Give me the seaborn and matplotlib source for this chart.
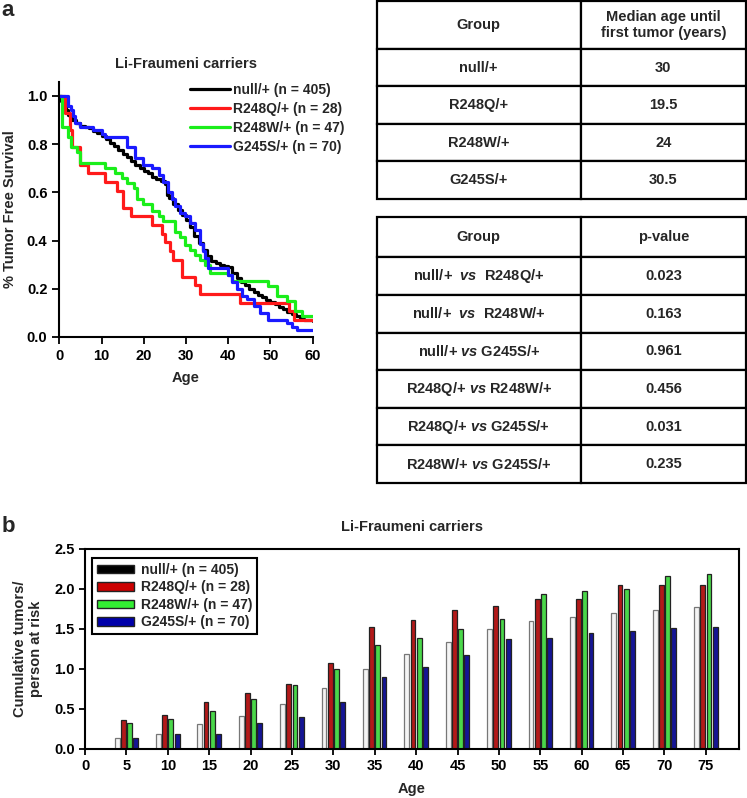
import pandas as pd
import matplotlib
matplotlib.use("Agg")
import matplotlib.pyplot as plt
import seaborn as sns
from matplotlib.patches import Patch

# ============================
# Data
# ============================
km_labels = ["null/+ (n = 405)", "R248Q/+ (n = 28)", "R248W/+ (n = 47)", "G245S/+ (n = 70)"]
km_colors = ["#000000", "#ff1a1a", "#1aee1a", "#1a1aff"]

null_age = [0, 0.5, 1, 1.5, 2, 2.5, 3, 4, 5, 6, 7, 8, 9, 10, 11, 12, 13, 14, 15, 16, 17, 18,
            19, 20, 21, 22, 23, 24, 25, 25.5, 26, 27, 28, 29, 30, 31, 32, 33, 34, 35, 36, 37,
            38, 39, 40, 41, 42, 43, 44, 45, 46, 47, 48, 49, 50, 51, 52, 53, 54, 55, 56, 57, 58, 60]
null_surv = [1.0, 0.98, 0.96, 0.94, 0.92, 0.91, 0.90, 0.885, 0.875, 0.87, 0.865, 0.855, 0.845,
             0.835, 0.82, 0.805, 0.79, 0.775, 0.76, 0.745, 0.73, 0.715, 0.70, 0.69, 0.68, 0.665,
             0.655, 0.645, 0.635, 0.59, 0.575, 0.55, 0.525, 0.505, 0.485, 0.455, 0.42, 0.39,
             0.36, 0.335, 0.315, 0.305, 0.30, 0.295, 0.29, 0.265, 0.245, 0.23, 0.215, 0.20,
             0.185, 0.175, 0.165, 0.155, 0.145, 0.135, 0.125, 0.115, 0.105, 0.095, 0.085,
             0.075, 0.07, 0.065]

r248q_age = [0, 1.3, 2.5, 3.0, 4.9, 6.9, 10.8, 13.6, 15.2, 17.0, 21.9, 24.2, 25.0, 26.2, 27.0,
             29.0, 32.1, 33.3, 42.8, 54.5, 55.5, 60]
r248q_surv = [1.0, 0.929, 0.857, 0.786, 0.714, 0.679, 0.643, 0.607, 0.536, 0.5, 0.464, 0.429,
              0.393, 0.357, 0.321, 0.25, 0.214, 0.179, 0.143, 0.107, 0.071, 0.071]

r248w_age = [0, 0.7, 2.0, 2.8, 4.1, 4.9, 10.8, 13.2, 14.8, 16.0, 17.8, 18.3, 19.9, 21.9, 23.5,
             24.6, 27.4, 28.6, 29.8, 30.9, 32.1, 33.3, 34.5, 35.7, 40.0, 40.8, 49.5, 51.5,
             54.0, 55.8, 57.4, 60]
r248w_surv = [1.0, 0.872, 0.83, 0.787, 0.766, 0.723, 0.702, 0.681, 0.66, 0.638, 0.617, 0.574,
              0.553, 0.521, 0.5, 0.479, 0.436, 0.415, 0.383, 0.362, 0.34, 0.319, 0.298, 0.266,
              0.255, 0.234, 0.213, 0.17, 0.149, 0.106, 0.085, 0.085]

g245s_age = [0, 2.0, 2.8, 3.3, 3.7, 4.9, 8.0, 10.0, 10.8, 16.0, 17.9, 19.9, 21.9, 23.5, 24.6,
             25.8, 26.6, 27.4, 28.6, 29.8, 30.9, 32.2, 33.3, 34.0, 34.5, 35.2, 40.0, 41.0,
             42.0, 43.3, 44.5, 46.0, 47.5, 49.5, 53.9, 55.0, 56.2, 60]
g245s_surv = [1.0, 0.957, 0.943, 0.914, 0.886, 0.871, 0.857, 0.843, 0.829, 0.786, 0.743, 0.714,
              0.7, 0.671, 0.643, 0.6, 0.571, 0.543, 0.514, 0.5, 0.471, 0.443, 0.386, 0.357,
              0.329, 0.286, 0.257, 0.229, 0.2, 0.171, 0.157, 0.129, 0.1, 0.071, 0.057, 0.043,
              0.029, 0.029]

median_rows = [["Group", "Median age until\nfirst tumor (years)"],
               ["null/+", "30"],
               ["R248Q/+", "19.5"],
               ["R248W/+", "24"],
               ["G245S/+", "30.5"]]

pvalue_rows = [["Group", "p-value"],
               [r"null/+  $\mathit{vs}$  R248Q/+", "0.023"],
               [r"null/+  $\mathit{vs}$  R248W/+", "0.163"],
               [r"null/+ $\mathit{vs}$ G245S/+", "0.961"],
               [r"R248Q/+ $\mathit{vs}$ R248W/+", "0.456"],
               [r"R248Q/+ $\mathit{vs}$ G245S/+", "0.031"],
               [r"R248W/+ $\mathit{vs}$ G245S/+", "0.235"]]

bar_ages = [5, 10, 15, 20, 25, 30, 35, 40, 45, 50, 55, 60, 65, 70, 75]
null_bars = [0.14, 0.19, 0.31, 0.41, 0.56, 0.76, 1.0, 1.19, 1.34, 1.50, 1.60, 1.65, 1.70, 1.74, 1.77]
r248q_bars = [0.36, 0.43, 0.59, 0.70, 0.81, 1.08, 1.52, 1.61, 1.74, 1.79, 1.87, 1.87, 2.05, 2.05, 2.05]
r248w_bars = [0.32, 0.37, 0.48, 0.62, 0.80, 1.0, 1.30, 1.39, 1.50, 1.62, 1.94, 1.97, 2.00, 2.16, 2.19]
g245s_bars = [0.14, 0.19, 0.19, 0.32, 0.40, 0.59, 0.90, 1.02, 1.18, 1.38, 1.39, 1.45, 1.48, 1.51, 1.53]
bar_fill = ["#f4f4f4", "#cc0000", "#33ee33", "#0000aa"]
legend_fill = ["#000000", "#cc0000", "#33ee33", "#0000aa"]

# ============================
# Style
# ============================
sns.set_style("ticks")
plt.rcParams["font.family"] = ["Liberation Sans", "DejaVu Sans"]
plt.rcParams["font.weight"] = "bold"
plt.rcParams["axes.labelweight"] = "bold"
plt.rcParams["axes.titleweight"] = "bold"
plt.rcParams["mathtext.fontset"] = "custom"
plt.rcParams["mathtext.rm"] = "Liberation Sans:bold"
plt.rcParams["mathtext.it"] = "Liberation Sans:bold:italic"
plt.rcParams["axes.linewidth"] = 1.5
plt.rcParams["axes.edgecolor"] = "black"
plt.rcParams["xtick.color"] = "black"
plt.rcParams["ytick.color"] = "black"

W, H = 747, 798
fig = plt.figure(figsize=(W / 100, H / 100), dpi=100)

# ============================
# (a) Kaplan-Meier curves
# ============================
km = pd.concat([
    pd.DataFrame({"age": null_age, "surv": null_surv, "group": km_labels[0]}),
    pd.DataFrame({"age": r248q_age, "surv": r248q_surv, "group": km_labels[1]}),
    pd.DataFrame({"age": r248w_age, "surv": r248w_surv, "group": km_labels[2]}),
    pd.DataFrame({"age": g245s_age, "surv": g245s_surv, "group": km_labels[3]}),
])

ax1 = fig.add_axes([59.3 / W, 1 - 337 / H, 253.4 / W, 255 / H])
sns.lineplot(data=km, x="age", y="surv", hue="group", hue_order=km_labels,
             palette=km_colors, estimator=None, drawstyle="steps-post",
             linewidth=2.3, ax=ax1)
sns.despine(ax=ax1)
ax1.set_xlim(0, 60)
ax1.set_ylim(0, 1.057)
ax1.set_xticks(range(0, 61, 10))
ax1.set_yticks([0, 0.2, 0.4, 0.6, 0.8, 1.0])
ax1.set_yticklabels(["0.0", "0.2", "0.4", "0.6", "0.8", "1.0"])
ax1.tick_params(direction="out", length=5, width=1.3, labelsize=10.5)
ax1.set_xlabel("Age", fontsize=10.5, labelpad=6)
ax1.set_ylabel("% Tumor Free Survival", fontsize=10.5, labelpad=7)
ax1.set_title("Li-Fraumeni carriers", fontsize=10.5, pad=10)

old = ax1.get_legend()
handles = old.legend_handles
labels = [t.get_text() for t in old.get_texts()]
old.remove()
for h in handles:
    h.set_linewidth(2.3)
ax1.legend(handles, labels, loc="upper left", bbox_to_anchor=(0.516, 0.995),
           frameon=False, borderaxespad=0, borderpad=0, handlelength=2.9,
           handletextpad=0.2, labelspacing=0.35, fontsize=10)

# ============================
# Tables
# ============================
def draw_table(rect, rows, col_w, head_h, row_h):
    tax = fig.add_axes(rect)
    tax.axis("off")
    tb = tax.table(cellText=rows, colWidths=col_w, cellLoc="center", bbox=[0, 0, 1, 1])
    tb.auto_set_font_size(False)
    tb.set_fontsize(10.5)
    for (r, c), cell in tb.get_celld().items():
        cell.set_linewidth(1.6)
        cell.set_height(head_h if r == 0 else row_h)
        cell.get_text().set_fontweight("bold")
    return tb

draw_table([376.7 / W, 1 - 199 / H, 369.3 / W, 198 / H], median_rows,
           [204, 165.3], 48, 37.75)
draw_table([377 / W, 1 - 483 / H, 369 / W, 266 / H], pvalue_rows,
           [203.7, 165.3], 40.5, 37.6)

# ============================
# (b) Cumulative tumors bar chart
# ============================
bar_groups = km_labels
bars = pd.concat([
    pd.DataFrame({"age": bar_ages, "value": null_bars, "group": bar_groups[0]}),
    pd.DataFrame({"age": bar_ages, "value": r248q_bars, "group": bar_groups[1]}),
    pd.DataFrame({"age": bar_ages, "value": r248w_bars, "group": bar_groups[2]}),
    pd.DataFrame({"age": bar_ages, "value": g245s_bars, "group": bar_groups[3]}),
])

ax2 = fig.add_axes([85 / W, 1 - 749 / H, 654 / W, 200 / H])
sns.barplot(data=bars, x="age", y="value", hue="group", hue_order=bar_groups,
            palette=bar_fill, native_scale=True, width=0.6, gap=0.22,
            errorbar=None, edgecolor="#222222", linewidth=0.9, legend=False, ax=ax2)
for patch in ax2.containers[0]:
    patch.set_edgecolor("#777777")

ax2.set_xlim(0, 79)
ax2.set_ylim(0, 2.5)
ax2.set_xticks(range(0, 80, 5))
ax2.set_yticks([0, 0.5, 1.0, 1.5, 2.0, 2.5])
ax2.set_yticklabels(["0.0", "0.5", "1.0", "1.5", "2.0", "2.5"])
ax2.tick_params(direction="out", length=4, width=1.3, labelsize=10.5)
ax2.set_xlabel("Age", fontsize=10.5, labelpad=6)
ax2.set_ylabel("Cumulative tumors/\nperson at risk", fontsize=10.5, labelpad=8)
ax2.set_title("Li-Fraumeni carriers", fontsize=10.5, pad=13)

leg_handles = [Patch(facecolor=c, edgecolor="#222222", linewidth=1) for c in legend_fill]
leg = ax2.legend(leg_handles, bar_groups, loc="upper left", bbox_to_anchor=(0.0107, 0.955),
                 borderaxespad=0, fancybox=False, edgecolor="black", framealpha=1,
                 handlelength=2.7, handleheight=0.55, handletextpad=0.45,
                 labelspacing=0.25, borderpad=0.35, fontsize=10)
leg.get_frame().set_linewidth(1.5)

# panel letters
fig.text(0.002, 1 - 16 / H, "a", fontsize=16, fontweight="bold", va="baseline")
fig.text(0.002, 1 - 532 / H, "b", fontsize=16, fontweight="bold", va="baseline")

fig.savefig("out.png", dpi=100)
